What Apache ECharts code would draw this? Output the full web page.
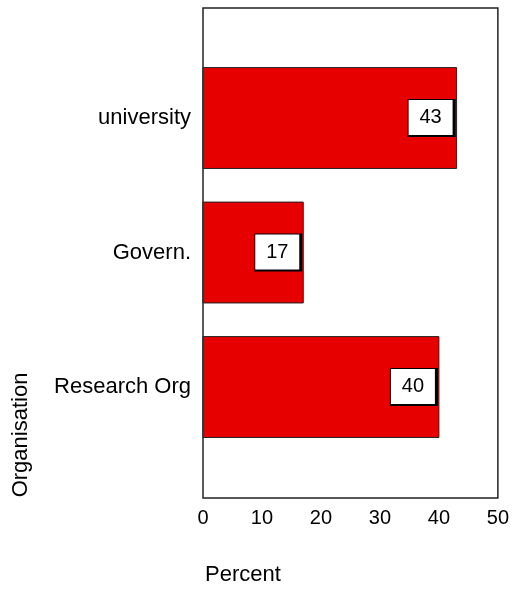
<!DOCTYPE html>
<html>
<head>
<meta charset="utf-8">
<style>html,body{margin:0;padding:0;background:#fff;}#chart{width:512px;height:590px;}</style>
<script src="https://cdn.jsdelivr.net/npm/echarts@6/dist/echarts.min.js"></script>
</head>
<body>
<div id="chart"></div>
<script>
const categories = ['university', 'Govern.', 'Research Org'];
const percents = [43, 17, 40];
const xTickLabels = [0, 10, 20, 30, 40, 50];
const xTitle = 'Percent';
const yTitle = 'Organisation';

const FONT = "'Liberation Sans', Arial, sans-serif";
const chart = echarts.init(document.getElementById('chart'), null, {renderer: 'canvas'});

function renderItem(params, api) {
  const idx = api.value(1);
  const v = api.value(0);
  const start = api.coord([0, idx]);
  const end = api.coord([v, idx]);
  const unit = api.size([0, 1])[1];
  const h = unit * 0.75;
  const boxW = 48, boxH = 38;
  const right = end[0] - 1;
  const left = right - boxW;
  const top = start[1] - boxH / 2;
  return {
    type: 'group',
    children: [
      {type: 'rect', shape: {x: start[0], y: start[1] - h / 2, width: end[0] - start[0], height: h},
       style: {fill: '#e60000', stroke: '#222', lineWidth: 1}},
      {type: 'rect', shape: {x: left, y: top, width: boxW, height: boxH}, style: {fill: '#000'}},
      {type: 'rect', shape: {x: left + 1, y: top + 1, width: boxW - 4, height: boxH - 3}, style: {fill: '#fff'}},
      {type: 'text', x: left + 1 + (boxW - 4) / 2, y: top + 1 + (boxH - 3) / 2,
       style: {text: String(Math.round(v)), fill: '#000', font: '20px ' + FONT, align: 'center', verticalAlign: 'middle'}}
    ]
  };
}

chart.setOption({
  animation: false,
  backgroundColor: '#fff',
  grid: {left: 203, right: 10, top: 8, bottom: 92, show: true, borderColor: '#222', borderWidth: 1.5, backgroundColor: 'transparent'},
  xAxis: {
    type: 'value', min: xTickLabels[0], max: xTickLabels[xTickLabels.length - 1], interval: 10,
    axisLine: {show: false}, axisTick: {show: false}, splitLine: {show: false},
    axisLabel: {color: '#000', fontSize: 20, fontFamily: FONT, margin: 10}
  },
  yAxis: {
    type: 'value', inverse: true, min: -0.818, max: 2.825,
    axisLine: {show: false}, axisTick: {show: false}, splitLine: {show: false},
    axisLabel: {color: '#000', fontSize: 22, fontFamily: FONT, margin: 12,
      customValues: categories.map((c, i) => i),
      formatter: v => categories[Math.round(v)] || ''}
  },
  graphic: [
    {type: 'text', left: 205, top: 564, style: {text: xTitle, fill: '#000', font: '22px ' + FONT}},
    {type: 'text', x: 21, y: 435, rotation: Math.PI / 2,
     style: {text: yTitle, fill: '#000', font: '22px ' + FONT, align: 'center', verticalAlign: 'middle'}}
  ],
  series: [{
    type: 'custom',
    renderItem: renderItem,
    encode: {x: 0, y: 1},
    data: percents.map((p, i) => [p, i])
  }]
});
</script>
</body>
</html>
